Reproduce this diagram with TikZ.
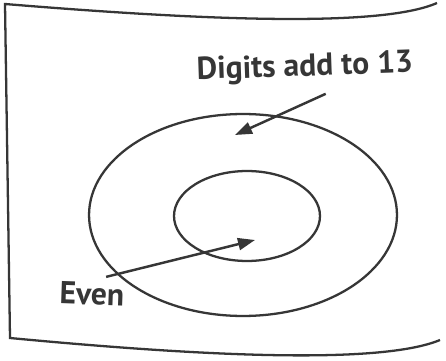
\documentclass[tikz,border=0pt]{standalone}
\usepackage{fontspec}
\setmainfont{PT Sans}
\usepackage{xcolor}
\usetikzlibrary{arrows.meta,positioning,shapes.geometric}
\definecolor{ink}{HTML}{363636}

\begin{document}
\begin{tikzpicture}[x=0.02cm,y=-0.02cm,
  ring/.style={draw=ink, line width=1.3pt, ellipse, inner sep=0pt},
  tag/.style={text=ink, font=\bfseries\fontsize{18}{20}\selectfont},
  pointer/.style={draw=ink, line width=1.4pt, -{Triangle[length=0.34cm,width=0.24cm]}}]
	\useasboundingbox (0,0) rectangle (446,361);
	\fill[white] (0,0) rectangle (446,361);
	% the page
	\draw[ink, line width=1.3pt] (437,3) .. controls (380,28) and (200,20) .. (5,4) -- (10,338) .. controls (200,356) and (380,365) .. (440,340);
	
	\node[ring, minimum width=6.16cm, minimum height=4.04cm] (Outer) at (243,215) {};
	\node[ring, minimum width=2.92cm, minimum height=1.8cm] (Inner) at (247,216) {};
	
	\node[tag, rotate=2] (Digits) at (305,68) {Digits add to 13};
	\node[tag, rotate=-2] (Even) at (92,294) {Even};
	
	\coordinate (Digits tip) at (235,135);
	\coordinate (Even tip) at (255,240);
	\draw[pointer] ([xshift=0.4cm, yshift=-0.1cm]Digits.south) -- (Digits tip);
	\draw[pointer] ([xshift=-0.5cm, yshift=0.02cm]Even.north east) -- (Even tip);
\end{tikzpicture}
\end{document}
